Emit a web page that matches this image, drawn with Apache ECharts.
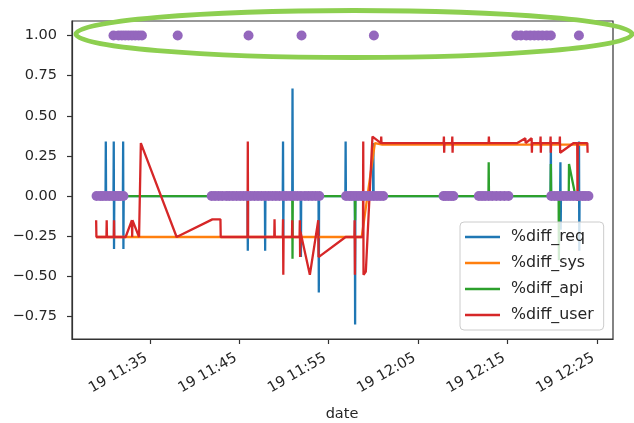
<!DOCTYPE html>
<html>
<head>
<meta charset="utf-8">
<script src="https://cdn.jsdelivr.net/npm/echarts@6/dist/echarts.min.js"></script>
<style>
html,body{margin:0;padding:0;background:#fff;}
#chart{width:634px;height:423px;}
</style>
</head>
<body>
<div id="chart"></div>
<script>
// time values are minutes after 11:00 on day 19
const xTickMinutes = [35, 45, 55, 65, 75, 85];
const yTicks = [-0.75, -0.5, -0.25, 0, 0.25, 0.5, 0.75, 1.0];

const reqData = [
  [29.0,0],[30.05,0],[30.08,0.34],[30.11,0],
  [30.94,0],[30.97,0.34],[31.0,-0.33],[31.03,0],
  [31.99,0],[32.02,0.34],[32.05,-0.33],[32.08,0],
  [45.93,0],[45.96,-0.34],[45.99,0],
  [47.87,0],[47.9,-0.34],[47.93,0],
  [49.87,0],[49.9,0.34],[49.93,-0.25],[49.96,0],
  [50.93,0],[50.96,0.67],[50.99,0],
  [51.87,0],[51.9,-0.38],[51.93,0],
  [53.87,0],[53.9,-0.6],[53.93,0],
  [56.87,0],[56.9,0.34],[56.93,0],
  [57.93,0],[57.96,-0.8],[57.99,0],
  [59.97,0],[60.0,0.33],[60.03,0],
  [79.82,0],[79.85,0.34],[79.88,0],
  [80.89,0],[80.92,0.21],[80.95,-0.21],[80.98,0],
  [82.97,0],[83.0,0.34],[83.03,-0.34],[83.06,0],
  [84.05,0]
];

const sysData = [
  [29.0,-0.255],[58.7,-0.255],[60.17,0.33],[61.0,0.32],[83.96,0.32]
];

const apiData = [
  [29.0,0],[50.93,0],[50.96,-0.39],[50.99,0],
  [57.93,0],[57.96,-0.15],[57.99,0],
  [72.87,0],[72.9,0.21],[72.93,0],
  [79.82,0],[79.85,0.2],[79.88,0],
  [80.72,0],[80.75,-0.4],[80.78,0],
  [81.85,0],[81.88,0.2],[82.6,0],[84.05,0]
];

const userData = [
  [29.0,-0.15],[29.03,-0.255],
  [30.15,-0.255],[30.18,-0.15],[30.21,-0.255],
  [30.97,-0.255],[31.0,-0.15],[31.03,-0.255],
  [32.3,-0.255],[33.0,-0.15],[33.03,-0.255],[33.06,-0.15],[33.8,-0.255],
  [34.0,0.33],[38.0,-0.255],[42.0,-0.145],[42.9,-0.145],[42.93,-0.255],
  [45.93,-0.255],[45.96,0.34],[45.99,-0.255],
  [48.92,-0.255],[48.95,-0.145],[48.98,-0.255],
  [49.87,-0.255],[49.9,-0.145],[49.93,-0.49],[49.96,-0.255],
  [50.9,-0.255],[50.93,-0.15],[50.96,-0.255],
  [51.75,-0.255],[51.78,-0.15],[51.81,-0.38],[51.84,-0.22],
  [52.9,-0.49],[53.84,-0.15],[53.87,-0.38],
  [56.9,-0.255],
  [57.88,-0.255],[57.91,-0.15],[57.94,-0.49],[57.97,-0.255],
  [58.84,-0.255],[58.87,0.34],[58.9,-0.49],[59.16,-0.47],
  [59.9,0.37],[60.85,0.33],[60.88,0.37],[60.91,0.33],
  [67.86,0.33],[67.89,0.37],[67.92,0.27],[67.95,0.33],
  [68.8,0.33],[68.83,0.37],[68.86,0.27],[68.89,0.33],
  [72.89,0.33],[72.92,0.37],[72.95,0.33],
  [76.1,0.33],[77.0,0.36],[77.03,0.33],[77.7,0.36],[77.73,0.27],[77.76,0.33],
  [78.67,0.33],[78.7,0.37],[78.73,0.27],[78.76,0.33],
  [79.79,0.33],[79.82,0.37],[79.85,0.27],[79.88,0.33],
  [80.83,0.33],[80.86,0.37],[80.89,0.27],
  [82.4,0.33],[82.8,0.33],[82.83,-0.03],[82.86,0.33],
  [83.93,0.33],[83.96,0.27]
];

const flagOnTimes = [30.94,31.5,31.88,32.25,32.62,33.0,33.37,33.75,34.12,38.12,46.04,51.97,60.06,
  76.0,76.5,77.1,77.55,78.0,78.45,78.9,79.4,79.85,82.99];
const flagOffTimes = [29.05,29.45,29.75,30.1,30.45,30.8,31.15,31.45,31.7,32.05,
  41.92,42.3,42.7,43.1,43.55,43.9,44.3,44.7,45.1,45.5,45.9,46.3,46.7,47.1,47.5,47.9,48.3,48.7,49.1,49.5,49.95,50.3,50.7,51.1,51.5,51.9,52.35,52.75,53.15,53.55,53.95,
  56.95,57.3,57.6,57.95,58.3,58.65,59.0,59.35,59.7,60.05,60.4,60.75,61.1,
  67.85,68.1,68.4,68.7,68.95,
  71.8,72.15,72.5,72.9,73.3,73.75,74.2,74.65,75.1,
  79.9,80.25,80.6,80.95,81.3,81.65,82.0,82.35,82.7,83.05,83.4,83.7,84.05];

const seriesNames = ['%diff_req','%diff_sys','%diff_api','%diff_user'];
const colors = ['#1f77b4','#ff7f0e','#2ca02c','#d62728'];
const flagColor = '#9467bd';

const flagData = flagOffTimes.map(t => [t, 0]).concat(flagOnTimes.map(t => [t, 1]));

function fmtTime(m) {
  const h = 11 + Math.floor(m / 60);
  const mm = Math.round(m % 60);
  return '19 ' + h + ':' + (mm < 10 ? '0' : '') + mm;
}

const chart = echarts.init(document.getElementById('chart'), null, {renderer: 'canvas'});
const font = 'DejaVu Sans';
const lineSeries = [reqData, sysData, apiData, userData].map((d, i) => ({
  name: seriesNames[i],
  type: 'line',
  data: d,
  showSymbol: false,
  symbol: 'none',
  lineStyle: {width: 2.3, color: colors[i]},
  itemStyle: {color: colors[i]},
  z: 2 + i * 0.1,
  animation: false
}));

chart.setOption({
  animation: false,
  backgroundColor: '#fff',
  textStyle: {fontFamily: font},
  grid: {left: 72, right: 21, top: 21, bottom: 84, show: true, borderColor: '#333', borderWidth: 1.2, backgroundColor: 'transparent'},
  xAxis: {
    type: 'value', min: 26.3, max: 86.8,
    axisLine: {show: true, onZero: false, lineStyle: {color: '#333', width: 1.2}},
    axisTick: {show: true, length: 5, lineStyle: {color: '#333', width: 1.2}, customValues: xTickMinutes},
    axisLabel: {customValues: xTickMinutes, formatter: fmtTime, rotate: 30, fontSize: 14.5, color: '#262626', fontFamily: font, margin: 16, padding: [0, 4, 0, 0]},
    splitLine: {show: false}
  },
  yAxis: {
    type: 'value', min: -0.89, max: 1.09,
    axisLine: {show: true, onZero: false, lineStyle: {color: '#333', width: 1.2}},
    axisTick: {show: true, length: 5, lineStyle: {color: '#333', width: 1.2}, customValues: yTicks},
    axisLabel: {customValues: yTicks, formatter: v => v.toFixed(2).replace('-', '\u2212'), fontSize: 14.5, color: '#262626', fontFamily: font, margin: 15},
    splitLine: {show: false}
  },
  legend: {
    show: true,
    data: seriesNames.map(n => ({name: n, icon: 'rect'})),
    orient: 'vertical',
    left: 460, top: 222,
    itemWidth: 35, itemHeight: 2.5, itemGap: 8,
    padding: [6, 10, 6, 5],
    backgroundColor: 'rgba(255,255,255,0.8)',
    borderColor: '#cccccc', borderWidth: 1, borderRadius: 4,
    textStyle: {fontSize: 15.8, color: '#262626', fontFamily: font, lineHeight: 18, padding: [0, 0, 0, 6]},
    z: 10
  },
  graphic: [
    {type: 'text', style: {text: 'date', x: 342, y: 414, fill: '#262626', font: '14.5px "DejaVu Sans"', textAlign: 'center', textVerticalAlign: 'middle'}, z: 20},
    {type: 'ellipse', shape: {cx: 354, cy: 34, rx: 278, ry: 23.5}, style: {fill: 'none', stroke: '#8dcf50', lineWidth: 5}, z: 100}
  ],
  series: lineSeries.concat([{
    name: 'flag', type: 'scatter', data: flagData, symbolSize: 10,
    itemStyle: {color: flagColor, opacity: 1}, z: 5, animation: false
  }])
});
</script>
</body>
</html>
